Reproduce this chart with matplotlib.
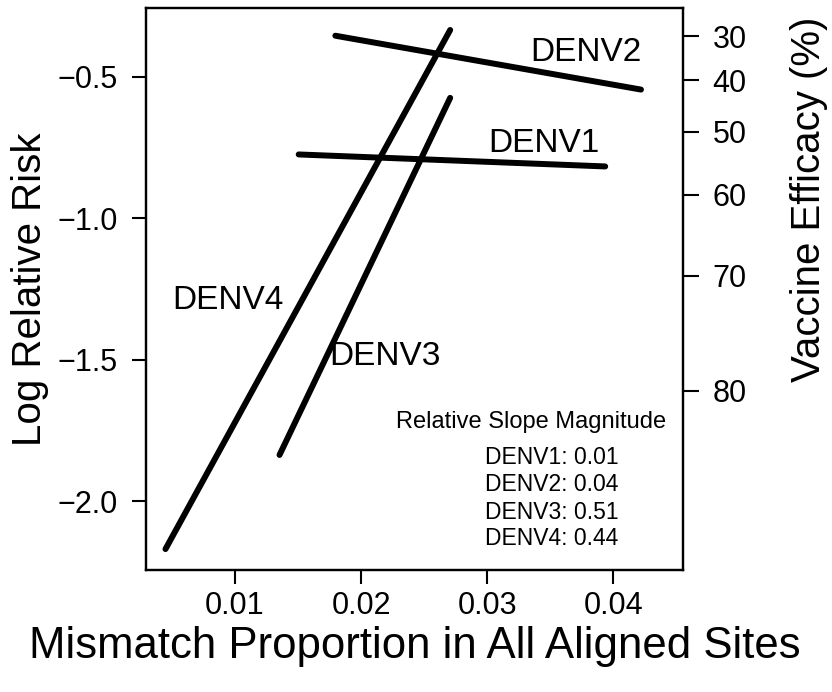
import numpy as np
import matplotlib.pyplot as plt

plt.rcParams['font.family'] = ['Liberation Sans', 'DejaVu Sans']

# fitted lines: log relative risk vs mismatch proportion, one per serotype
serotypes = ['DENV1', 'DENV2', 'DENV3', 'DENV4']
x_start = [0.01505, 0.01796, 0.01353, 0.00448]
x_end = [0.03937, 0.04221, 0.02707, 0.02707]
y_start = [-0.774, -0.354, -1.837, -2.170]
y_end = [-0.8164, -0.5445, -0.5738, -0.3337]

# where each serotype name is written
label_x = [0.03454, 0.03785, 0.02186, 0.00942]
label_y = [-0.735, -0.4128, -1.487, -1.2896]

slope_mag = [0.01, 0.04, 0.51, 0.44]

x_ticks = [0.01, 0.02, 0.03, 0.04]
y_ticks = [-0.5, -1.0, -1.5, -2.0]
ve_ticks = [30, 40, 50, 60, 70, 80]

fig = plt.figure(figsize=(8.32, 6.92), dpi=100)
ax = fig.add_axes([0.1751, 0.1763, 0.6462, 0.8117])

for i in range(len(serotypes)):
    ax.plot([x_start[i], x_end[i]], [y_start[i], y_end[i]], color='black',
            lw=4.3, solid_capstyle='round')
    ax.text(label_x[i], label_y[i], serotypes[i], fontsize=24,
            ha='center', va='center')

ax.text(0.03351, -1.720, 'Relative Slope Magnitude', fontsize=17,
        ha='center', va='center')
leg_y = [-1.8475, -1.943, -2.039, -2.134]
for i in range(len(serotypes)):
    ax.text(0.0298, leg_y[i], f'{serotypes[i]}: {slope_mag[i]:.2f}',
            fontsize=16.5, ha='left', va='center')

ax.set_xlim(0.00291, 0.04557)
ax.set_ylim(-2.244, -0.257)
ax.set_xticks(x_ticks)
ax.set_xticklabels([f'{v:.2f}' for v in x_ticks])
ax.set_yticks(y_ticks)
ax.set_yticklabels([f'\u2212{abs(v):.1f}' for v in y_ticks])
ax.tick_params(labelsize=22, length=10, width=1.5)
ax.tick_params(axis='y', pad=10)
ax.tick_params(axis='x', pad=5)

for s in ax.spines.values():
    s.set_linewidth(1.6)

ax2 = ax.twinx()
ax2.set_ylim(ax.get_ylim())
ax2.set_yticks([np.log(1 - v / 100) for v in ve_ticks])
ax2.set_yticklabels([str(v) for v in ve_ticks])
ax2.tick_params(labelsize=22, length=11.5, width=1.5, pad=9.5)
for s in ax2.spines.values():
    s.set_linewidth(1.6)

ax.set_xlabel('Mismatch Proportion in All Aligned Sites', fontsize=31.5,
              labelpad=4)
ax.set_ylabel('Log Relative Risk', fontsize=29, labelpad=6)
ax2.set_ylabel('Vaccine Efficacy (%)', fontsize=29)
ax2.yaxis.set_label_coords(1.198, 0.66)

fig.savefig('out.png', dpi=100)
